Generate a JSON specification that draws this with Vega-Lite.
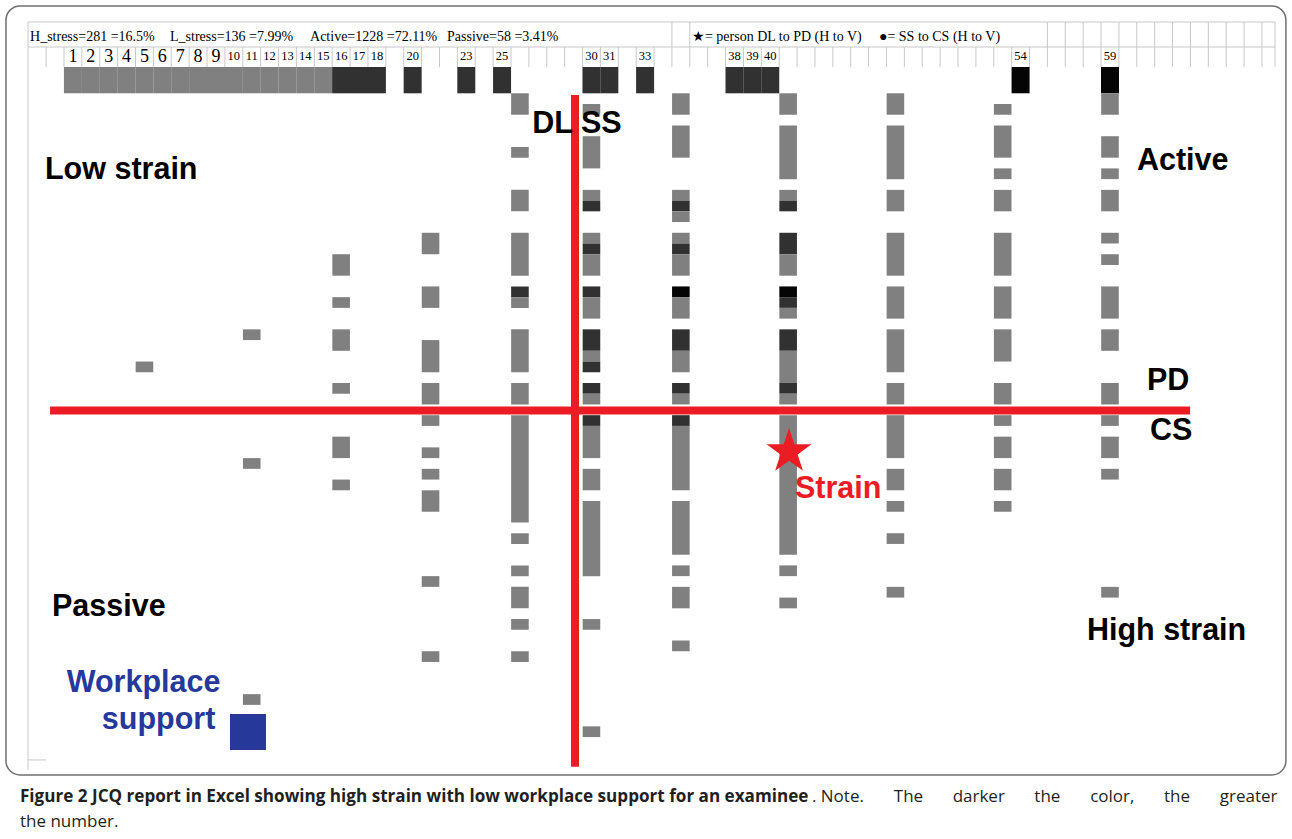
{
  "$schema": "https://vega.github.io/schema/vega-lite/v6.json",
  "width": 1292,
  "height": 839,
  "autosize": {"type": "none"},
  "padding": 0,
  "background": "white",
  "config": {"view": {"stroke": null}, "text": {"font": "Liberation Sans"}, "scale": {"continuousPadding": 0}},
  "datasets": {
    "cells": [
      {"col":5,"from":25,"to":26,"tone":"g"},
      {"col":11,"from":22,"to":23,"tone":"g"},
      {"col":11,"from":34,"to":35,"tone":"g"},
      {"col":11,"from":56,"to":57,"tone":"g"},
      {"col":16,"from":15,"to":17,"tone":"g"},
      {"col":16,"from":19,"to":20,"tone":"g"},
      {"col":16,"from":22,"to":24,"tone":"g"},
      {"col":16,"from":27,"to":28,"tone":"g"},
      {"col":16,"from":32,"to":34,"tone":"g"},
      {"col":16,"from":36,"to":37,"tone":"g"},
      {"col":21,"from":13,"to":15,"tone":"g"},
      {"col":21,"from":18,"to":20,"tone":"g"},
      {"col":21,"from":23,"to":26,"tone":"g"},
      {"col":21,"from":27,"to":29,"tone":"g"},
      {"col":21,"from":30,"to":31,"tone":"g"},
      {"col":21,"from":33,"to":34,"tone":"g"},
      {"col":21,"from":35,"to":36,"tone":"g"},
      {"col":21,"from":37,"to":39,"tone":"g"},
      {"col":21,"from":45,"to":46,"tone":"g"},
      {"col":21,"from":52,"to":53,"tone":"g"},
      {"col":26,"from":0,"to":2,"tone":"g"},
      {"col":26,"from":5,"to":6,"tone":"g"},
      {"col":26,"from":9,"to":11,"tone":"g"},
      {"col":26,"from":13,"to":17,"tone":"g"},
      {"col":26,"from":18,"to":19,"tone":"d"},
      {"col":26,"from":19,"to":20,"tone":"g"},
      {"col":26,"from":22,"to":26,"tone":"g"},
      {"col":26,"from":27,"to":29,"tone":"g"},
      {"col":26,"from":30,"to":40,"tone":"g"},
      {"col":26,"from":41,"to":42,"tone":"g"},
      {"col":26,"from":44,"to":45,"tone":"g"},
      {"col":26,"from":46,"to":48,"tone":"g"},
      {"col":26,"from":49,"to":50,"tone":"g"},
      {"col":26,"from":52,"to":53,"tone":"g"},
      {"col":30,"from":1,"to":2,"tone":"g"},
      {"col":30,"from":4,"to":7,"tone":"g"},
      {"col":30,"from":9,"to":10,"tone":"g"},
      {"col":30,"from":10,"to":11,"tone":"d"},
      {"col":30,"from":13,"to":14,"tone":"g"},
      {"col":30,"from":14,"to":15,"tone":"d"},
      {"col":30,"from":15,"to":17,"tone":"g"},
      {"col":30,"from":18,"to":19,"tone":"d"},
      {"col":30,"from":19,"to":21,"tone":"g"},
      {"col":30,"from":22,"to":24,"tone":"d"},
      {"col":30,"from":24,"to":25,"tone":"g"},
      {"col":30,"from":25,"to":26,"tone":"d"},
      {"col":30,"from":27,"to":28,"tone":"d"},
      {"col":30,"from":28,"to":29,"tone":"g"},
      {"col":30,"from":30,"to":31,"tone":"d"},
      {"col":30,"from":31,"to":34,"tone":"g"},
      {"col":30,"from":35,"to":37,"tone":"g"},
      {"col":30,"from":38,"to":45,"tone":"g"},
      {"col":30,"from":49,"to":50,"tone":"g"},
      {"col":30,"from":59,"to":60,"tone":"g"},
      {"col":35,"from":0,"to":2,"tone":"g"},
      {"col":35,"from":3,"to":6,"tone":"g"},
      {"col":35,"from":9,"to":10,"tone":"g"},
      {"col":35,"from":10,"to":11,"tone":"d"},
      {"col":35,"from":11,"to":12,"tone":"g"},
      {"col":35,"from":13,"to":14,"tone":"g"},
      {"col":35,"from":14,"to":15,"tone":"d"},
      {"col":35,"from":15,"to":17,"tone":"g"},
      {"col":35,"from":18,"to":19,"tone":"b"},
      {"col":35,"from":19,"to":21,"tone":"g"},
      {"col":35,"from":22,"to":24,"tone":"d"},
      {"col":35,"from":24,"to":26,"tone":"g"},
      {"col":35,"from":27,"to":28,"tone":"d"},
      {"col":35,"from":28,"to":29,"tone":"g"},
      {"col":35,"from":30,"to":31,"tone":"d"},
      {"col":35,"from":31,"to":37,"tone":"g"},
      {"col":35,"from":38,"to":43,"tone":"g"},
      {"col":35,"from":44,"to":45,"tone":"g"},
      {"col":35,"from":46,"to":48,"tone":"g"},
      {"col":35,"from":51,"to":52,"tone":"g"},
      {"col":41,"from":0,"to":2,"tone":"g"},
      {"col":41,"from":3,"to":8,"tone":"g"},
      {"col":41,"from":9,"to":10,"tone":"g"},
      {"col":41,"from":10,"to":11,"tone":"d"},
      {"col":41,"from":13,"to":15,"tone":"d"},
      {"col":41,"from":15,"to":17,"tone":"g"},
      {"col":41,"from":18,"to":19,"tone":"b"},
      {"col":41,"from":19,"to":20,"tone":"d"},
      {"col":41,"from":20,"to":21,"tone":"g"},
      {"col":41,"from":22,"to":24,"tone":"d"},
      {"col":41,"from":24,"to":27,"tone":"g"},
      {"col":41,"from":27,"to":28,"tone":"d"},
      {"col":41,"from":28,"to":29,"tone":"g"},
      {"col":41,"from":30,"to":43,"tone":"g"},
      {"col":41,"from":44,"to":45,"tone":"g"},
      {"col":41,"from":47,"to":48,"tone":"g"},
      {"col":47,"from":0,"to":2,"tone":"g"},
      {"col":47,"from":3,"to":8,"tone":"g"},
      {"col":47,"from":9,"to":11,"tone":"g"},
      {"col":47,"from":13,"to":17,"tone":"g"},
      {"col":47,"from":18,"to":21,"tone":"g"},
      {"col":47,"from":22,"to":26,"tone":"g"},
      {"col":47,"from":27,"to":29,"tone":"g"},
      {"col":47,"from":30,"to":34,"tone":"g"},
      {"col":47,"from":35,"to":37,"tone":"g"},
      {"col":47,"from":38,"to":39,"tone":"g"},
      {"col":47,"from":41,"to":42,"tone":"g"},
      {"col":47,"from":46,"to":47,"tone":"g"},
      {"col":53,"from":1,"to":2,"tone":"g"},
      {"col":53,"from":3,"to":6,"tone":"g"},
      {"col":53,"from":7,"to":8,"tone":"g"},
      {"col":53,"from":9,"to":11,"tone":"g"},
      {"col":53,"from":13,"to":17,"tone":"g"},
      {"col":53,"from":18,"to":21,"tone":"g"},
      {"col":53,"from":22,"to":25,"tone":"g"},
      {"col":53,"from":27,"to":29,"tone":"g"},
      {"col":53,"from":30,"to":31,"tone":"g"},
      {"col":53,"from":32,"to":34,"tone":"g"},
      {"col":53,"from":35,"to":37,"tone":"g"},
      {"col":53,"from":38,"to":39,"tone":"g"},
      {"col":59,"from":0,"to":2,"tone":"g"},
      {"col":59,"from":4,"to":6,"tone":"g"},
      {"col":59,"from":7,"to":8,"tone":"g"},
      {"col":59,"from":9,"to":11,"tone":"g"},
      {"col":59,"from":13,"to":14,"tone":"g"},
      {"col":59,"from":15,"to":16,"tone":"g"},
      {"col":59,"from":18,"to":21,"tone":"g"},
      {"col":59,"from":22,"to":24,"tone":"g"},
      {"col":59,"from":27,"to":29,"tone":"g"},
      {"col":59,"from":30,"to":31,"tone":"g"},
      {"col":59,"from":32,"to":34,"tone":"g"},
      {"col":59,"from":35,"to":36,"tone":"g"},
      {"col":59,"from":46,"to":47,"tone":"g"}
    ],
    "header": [
      {"col":1,"tone":"g"},{"col":2,"tone":"g"},{"col":3,"tone":"g"},{"col":4,"tone":"g"},{"col":5,"tone":"g"},
      {"col":6,"tone":"g"},{"col":7,"tone":"g"},{"col":8,"tone":"g"},{"col":9,"tone":"g"},{"col":10,"tone":"g"},
      {"col":11,"tone":"g"},{"col":12,"tone":"g"},{"col":13,"tone":"g"},{"col":14,"tone":"g"},{"col":15,"tone":"g"},
      {"col":16,"tone":"d"},{"col":17,"tone":"d"},{"col":18,"tone":"d"},{"col":20,"tone":"d"},{"col":23,"tone":"d"},
      {"col":25,"tone":"d"},{"col":30,"tone":"d"},{"col":31,"tone":"d"},{"col":33,"tone":"d"},{"col":38,"tone":"d"},
      {"col":39,"tone":"d"},{"col":40,"tone":"d"},{"col":54,"tone":"b"},{"col":59,"tone":"b"}
    ],
    "bigNums": [{"col":1},{"col":2},{"col":3},{"col":4},{"col":5},{"col":6},{"col":7},{"col":8},{"col":9}],
    "smallNums": [{"col":10},{"col":11},{"col":12},{"col":13},{"col":14},{"col":15},{"col":16},{"col":17},{"col":18},{"col":20},{"col":23},{"col":25},{"col":30},{"col":31},{"col":33},{"col":38},{"col":39},{"col":40},{"col":54},{"col":59}],
    "numEdges": [{"edge":-0.5},{"edge":0.5},{"edge":1.5},{"edge":2.5},{"edge":3.5},{"edge":4.5},{"edge":5.5},{"edge":6.5},{"edge":7.5},{"edge":8.5},{"edge":9.5},{"edge":10.5},{"edge":11.5},{"edge":12.5},{"edge":13.5},{"edge":14.5},{"edge":15.5},{"edge":16.5},{"edge":17.5},{"edge":18.5},{"edge":19.5},{"edge":20.5},{"edge":21.5},{"edge":22.5},{"edge":23.5},{"edge":24.5},{"edge":25.5},{"edge":26.5},{"edge":27.5},{"edge":28.5},{"edge":29.5},{"edge":30.5},{"edge":31.5},{"edge":32.5},{"edge":33.5},{"edge":34.5},{"edge":35.5},{"edge":36.5},{"edge":37.5},{"edge":38.5},{"edge":39.5},{"edge":40.5},{"edge":41.5},{"edge":42.5},{"edge":43.5},{"edge":44.5},{"edge":45.5},{"edge":46.5},{"edge":47.5},{"edge":48.5},{"edge":49.5},{"edge":50.5},{"edge":51.5},{"edge":52.5},{"edge":53.5},{"edge":54.5},{"edge":55.5},{"edge":56.5},{"edge":57.5},{"edge":58.5},{"edge":59.5},{"edge":60.5},{"edge":61.5},{"edge":62.5},{"edge":63.5},{"edge":64.5},{"edge":65.5},{"edge":66.5},{"edge":67.5}],
    "titleEdges": [{"edge":34.5},{"edge":35.5},{"edge":55.5},{"edge":56.5},{"edge":57.5},{"edge":58.5},{"edge":59.5},{"edge":60.5},{"edge":61.5},{"edge":62.5},{"edge":63.5},{"edge":64.5},{"edge":65.5},{"edge":66.5},{"edge":67.5}],
    "quadLabels": [
      {"label":"Low strain","col":-0.563,"row":7.15},
      {"label":"Active","col":60.51,"row":6.31},
      {"label":"PD","col":61.07,"row":26.81},
      {"label":"CS","col":61.24,"row":31.47},
      {"label":"Passive","col":-0.17,"row":47.87},
      {"label":"High strain","col":57.71,"row":50.11}
    ],
    "blueLabels": [
      {"label":"Workplace","col":4.95,"row":54.96},
      {"label":"support","col":5.79,"row":58.4}
    ],
    "statLabels": [
      {"label":"H_stress=281 =16.5%","col":-1.4,"row":-5.25},
      {"label":"L_stress=136 =7.99%","col":6.43,"row":-5.25},
      {"label":"Active=1228 =72.11%","col":14.26,"row":-5.25},
      {"label":"Passive=58 =3.41%","col":21.92,"row":-5.25},
      {"label":"★= person DL to PD (H to V)","col":35.62,"row":-5.25},
      {"label":"●= SS to CS (H to V)","col":46.08,"row":-5.25}
    ],
    "noteWords": [
      {"label":". Note.","col":42.33,"row":65.58},
      {"label":"The","col":46.91,"row":65.58},
      {"label":"darker","col":50.2,"row":65.58},
      {"label":"the","col":54.77,"row":65.58},
      {"label":"color,","col":57.89,"row":65.58},
      {"label":"the","col":62.02,"row":65.58},
      {"label":"greater","col":65.14,"row":65.58},
      {"label":"the number.","col":-1.961,"row":67.91}
    ]
  },
  "layer": [
    {
      "data": {"values": [{}]},
      "mark": {"type": "rect", "filled": false, "stroke": "#707070", "strokeWidth": 1.5, "cornerRadius": 14},
      "encoding": {
        "x": {"datum": -2.744, "type": "quantitative", "scale": {"domain": [-3.079, 69.18], "nice": false, "zero": false, "padding": 0}, "axis": null},
        "x2": {"datum": 68.84},
        "y": {"datum": -8.136, "type": "quantitative", "scale": {"domain": [-8.695, 69.5], "reverse": true, "nice": false, "zero": false, "padding": 0}, "axis": null},
        "y2": {"datum": 63.53}
      }
    },
    {
      "data": {"values": [{}]},
      "mark": {"type": "rule", "color": "#c8c8c8", "strokeWidth": 1},
      "encoding": {
        "x": {"datum": -1.513, "type": "quantitative", "scale": {"domain": [-3.079, 69.18], "nice": false, "zero": false, "padding": 0}, "axis": null},
        "x2": {"datum": 68.23},
        "y": {"datum": -6.645, "type": "quantitative", "scale": {"domain": [-8.695, 69.5], "reverse": true, "nice": false, "zero": false, "padding": 0}, "axis": null}
      }
    },
    {
      "data": {"values": [{}]},
      "mark": {"type": "rule", "color": "#c8c8c8", "strokeWidth": 1},
      "encoding": {
        "x": {"datum": -1.513, "type": "quantitative", "scale": {"domain": [-3.079, 69.18], "nice": false, "zero": false, "padding": 0}, "axis": null},
        "x2": {"datum": 68.23},
        "y": {"datum": -4.315, "type": "quantitative", "scale": {"domain": [-8.695, 69.5], "reverse": true, "nice": false, "zero": false, "padding": 0}, "axis": null}
      }
    },
    {
      "data": {"values": [{}]},
      "mark": {"type": "rule", "color": "#c8c8c8", "strokeWidth": 1},
      "encoding": {
        "x": {"datum": -1.513, "type": "quantitative", "scale": {"domain": [-3.079, 69.18], "nice": false, "zero": false, "padding": 0}, "axis": null},
        "y": {"datum": -6.645, "type": "quantitative", "scale": {"domain": [-8.695, 69.5], "reverse": true, "nice": false, "zero": false, "padding": 0}, "axis": null},
        "y2": {"datum": 63.06}
      }
    },
    {
      "data": {"values": [{}]},
      "mark": {"type": "rule", "color": "#c8c8c8", "strokeWidth": 1},
      "encoding": {
        "x": {"datum": 68.23, "type": "quantitative", "scale": {"domain": [-3.079, 69.18], "nice": false, "zero": false, "padding": 0}, "axis": null},
        "y": {"datum": -6.645, "type": "quantitative", "scale": {"domain": [-8.695, 69.5], "reverse": true, "nice": false, "zero": false, "padding": 0}, "axis": null},
        "y2": {"datum": -2.45}
      }
    },
    {
      "data": {"values": [{}]},
      "mark": {"type": "rule", "color": "#c8c8c8", "strokeWidth": 1},
      "encoding": {
        "x": {"datum": -1.513, "type": "quantitative", "scale": {"domain": [-3.079, 69.18], "nice": false, "zero": false, "padding": 0}, "axis": null},
        "x2": {"datum": -0.5},
        "y": {"datum": 62.13, "type": "quantitative", "scale": {"domain": [-8.695, 69.5], "reverse": true, "nice": false, "zero": false, "padding": 0}, "axis": null}
      }
    },
    {
      "data": {"name": "numEdges"},
      "mark": {"type": "rule", "color": "#c8c8c8", "strokeWidth": 1},
      "encoding": {
        "x": {"field": "edge", "type": "quantitative", "scale": {"domain": [-3.079, 69.18], "nice": false, "zero": false, "padding": 0}, "axis": null},
        "y": {"datum": -4.315, "type": "quantitative", "scale": {"domain": [-8.695, 69.5], "reverse": true, "nice": false, "zero": false, "padding": 0}, "axis": null},
        "y2": {"datum": -2.45}
      }
    },
    {
      "data": {"name": "titleEdges"},
      "mark": {"type": "rule", "color": "#c8c8c8", "strokeWidth": 1},
      "encoding": {
        "x": {"field": "edge", "type": "quantitative", "scale": {"domain": [-3.079, 69.18], "nice": false, "zero": false, "padding": 0}, "axis": null},
        "y": {"datum": -6.645, "type": "quantitative", "scale": {"domain": [-8.695, 69.5], "reverse": true, "nice": false, "zero": false, "padding": 0}, "axis": null},
        "y2": {"datum": -4.315}
      }
    },
    {
      "data": {"name": "header"},
      "mark": {"type": "bar", "width": 18},
      "encoding": {
        "x": {"field": "col", "type": "quantitative", "scale": {"domain": [-3.079, 69.18], "nice": false, "zero": false, "padding": 0}, "axis": null},
        "y": {"datum": -2.45, "type": "quantitative", "scale": {"domain": [-8.695, 69.5], "reverse": true, "nice": false, "zero": false, "padding": 0}, "axis": null},
        "y2": {"datum": 0},
        "color": {"field": "tone", "type": "nominal", "scale": {"domain": ["g", "d", "b"], "range": ["#808080", "#313131", "#050505"]}, "legend": null}
      }
    },
    {
      "data": {"name": "cells"},
      "mark": {"type": "bar", "width": 17.6},
      "encoding": {
        "x": {"field": "col", "type": "quantitative", "scale": {"domain": [-3.079, 69.18], "nice": false, "zero": false, "padding": 0}, "axis": null},
        "y": {"field": "from", "type": "quantitative", "scale": {"domain": [-8.695, 69.5], "reverse": true, "nice": false, "zero": false, "padding": 0}, "axis": null},
        "y2": {"field": "to"},
        "color": {"field": "tone", "type": "nominal", "scale": {"domain": ["g", "d", "b"], "range": ["#808080", "#313131", "#050505"]}, "legend": null}
      }
    },
    {
      "data": {"name": "bigNums"},
      "mark": {"type": "text", "font": "Liberation Serif", "fontSize": 18, "align": "center", "baseline": "middle", "color": "#000"},
      "encoding": {
        "x": {"field": "col", "type": "quantitative", "scale": {"domain": [-3.079, 69.18], "nice": false, "zero": false, "padding": 0}, "axis": null},
        "y": {"datum": -3.38, "type": "quantitative", "scale": {"domain": [-8.695, 69.5], "reverse": true, "nice": false, "zero": false, "padding": 0}, "axis": null},
        "text": {"field": "col", "type": "quantitative", "format": "d"}
      }
    },
    {
      "data": {"name": "smallNums"},
      "mark": {"type": "text", "font": "Liberation Serif", "fontSize": 12.5, "align": "center", "baseline": "middle", "color": "#000"},
      "encoding": {
        "x": {"field": "col", "type": "quantitative", "scale": {"domain": [-3.079, 69.18], "nice": false, "zero": false, "padding": 0}, "axis": null},
        "y": {"datum": -3.45, "type": "quantitative", "scale": {"domain": [-8.695, 69.5], "reverse": true, "nice": false, "zero": false, "padding": 0}, "axis": null},
        "text": {"field": "col", "type": "quantitative", "format": "d"}
      }
    },
    {
      "data": {"name": "statLabels"},
      "mark": {"type": "text", "font": "Liberation Serif", "fontSize": 14, "align": "left", "baseline": "middle", "color": "#000"},
      "encoding": {
        "x": {"field": "col", "type": "quantitative", "scale": {"domain": [-3.079, 69.18], "nice": false, "zero": false, "padding": 0}, "axis": null},
        "y": {"field": "row", "type": "quantitative", "scale": {"domain": [-8.695, 69.5], "reverse": true, "nice": false, "zero": false, "padding": 0}, "axis": null},
        "text": {"field": "label"}
      }
    },
    {
      "data": {"values": [{}]},
      "mark": {"type": "rule", "color": "#ec1c24", "strokeWidth": 8},
      "encoding": {
        "x": {"datum": 29.08, "type": "quantitative", "scale": {"domain": [-3.079, 69.18], "nice": false, "zero": false, "padding": 0}, "axis": null},
        "y": {"datum": 0.16, "type": "quantitative", "scale": {"domain": [-8.695, 69.5], "reverse": true, "nice": false, "zero": false, "padding": 0}, "axis": null},
        "y2": {"datum": 62.76}
      }
    },
    {
      "data": {"values": [{}]},
      "mark": {"type": "rule", "color": "#ec1c24", "strokeWidth": 8},
      "encoding": {
        "x": {"datum": -0.28, "type": "quantitative", "scale": {"domain": [-3.079, 69.18], "nice": false, "zero": false, "padding": 0}, "axis": null},
        "x2": {"datum": 63.48},
        "y": {"datum": 29.56, "type": "quantitative", "scale": {"domain": [-8.695, 69.5], "reverse": true, "nice": false, "zero": false, "padding": 0}, "axis": null}
      }
    },
    {
      "data": {"name": "quadLabels"},
      "mark": {"type": "text", "font": "Liberation Sans", "fontWeight": "bold", "fontSize": 30.5, "align": "left", "baseline": "middle", "color": "#000"},
      "encoding": {
        "x": {"field": "col", "type": "quantitative", "scale": {"domain": [-3.079, 69.18], "nice": false, "zero": false, "padding": 0}, "axis": null},
        "y": {"field": "row", "type": "quantitative", "scale": {"domain": [-8.695, 69.5], "reverse": true, "nice": false, "zero": false, "padding": 0}, "axis": null},
        "text": {"field": "label"}
      }
    },
    {
      "data": {"values": [{}]},
      "mark": {"type": "text", "text": "DL SS", "font": "Liberation Sans", "fontWeight": "bold", "fontSize": 30.5, "align": "center", "baseline": "middle", "color": "#000"},
      "encoding": {
        "x": {"datum": 29.19, "type": "quantitative", "scale": {"domain": [-3.079, 69.18], "nice": false, "zero": false, "padding": 0}, "axis": null},
        "y": {"datum": 2.9, "type": "quantitative", "scale": {"domain": [-8.695, 69.5], "reverse": true, "nice": false, "zero": false, "padding": 0}, "axis": null}
      }
    },
    {
      "data": {"name": "blueLabels"},
      "mark": {"type": "text", "font": "Liberation Sans", "fontWeight": "bold", "fontSize": 30.5, "align": "center", "baseline": "middle", "color": "#26399b"},
      "encoding": {
        "x": {"field": "col", "type": "quantitative", "scale": {"domain": [-3.079, 69.18], "nice": false, "zero": false, "padding": 0}, "axis": null},
        "y": {"field": "row", "type": "quantitative", "scale": {"domain": [-8.695, 69.5], "reverse": true, "nice": false, "zero": false, "padding": 0}, "axis": null},
        "text": {"field": "label"}
      }
    },
    {
      "data": {"values": [{}]},
      "mark": {"type": "rect", "color": "#26399b"},
      "encoding": {
        "x": {"datum": 9.784, "type": "quantitative", "scale": {"domain": [-3.079, 69.18], "nice": false, "zero": false, "padding": 0}, "axis": null},
        "x2": {"datum": 11.797},
        "y": {"datum": 57.85, "type": "quantitative", "scale": {"domain": [-8.695, 69.5], "reverse": true, "nice": false, "zero": false, "padding": 0}, "axis": null},
        "y2": {"datum": 61.2}
      }
    },
    {
      "data": {"values": [{}]},
      "mark": {"type": "point", "filled": true, "color": "#ec1c24", "opacity": 1, "size": 2239, "shape": "M0,-1L0.2245,-0.309L0.9511,-0.309L0.3633,0.118L0.5878,0.809L0,0.382L-0.5878,0.809L-0.3633,0.118L-0.9511,-0.309L-0.2245,-0.309Z"},
      "encoding": {
        "x": {"datum": 41.05, "type": "quantitative", "scale": {"domain": [-3.079, 69.18], "nice": false, "zero": false, "padding": 0}, "axis": null},
        "y": {"datum": 33.4, "type": "quantitative", "scale": {"domain": [-8.695, 69.5], "reverse": true, "nice": false, "zero": false, "padding": 0}, "axis": null}
      }
    },
    {
      "data": {"values": [{}]},
      "mark": {"type": "text", "text": "Strain", "font": "Liberation Sans", "fontWeight": "bold", "fontSize": 30.5, "align": "left", "baseline": "middle", "color": "#ec1c24"},
      "encoding": {
        "x": {"datum": 41.38, "type": "quantitative", "scale": {"domain": [-3.079, 69.18], "nice": false, "zero": false, "padding": 0}, "axis": null},
        "y": {"datum": 36.88, "type": "quantitative", "scale": {"domain": [-8.695, 69.5], "reverse": true, "nice": false, "zero": false, "padding": 0}, "axis": null}
      }
    },
    {
      "data": {"values": [{}]},
      "mark": {"type": "text", "text": "Figure 2 JCQ report in Excel showing high strain with low workplace support for an examinee", "font": "Open Sans", "fontWeight": "bold", "fontSize": 17.1, "align": "left", "baseline": "middle", "color": "#231f20"},
      "encoding": {
        "x": {"datum": -1.961, "type": "quantitative", "scale": {"domain": [-3.079, 69.18], "nice": false, "zero": false, "padding": 0}, "axis": null},
        "y": {"datum": 65.58, "type": "quantitative", "scale": {"domain": [-8.695, 69.5], "reverse": true, "nice": false, "zero": false, "padding": 0}, "axis": null}
      }
    },
    {
      "data": {"name": "noteWords"},
      "mark": {"type": "text", "font": "Open Sans", "fontSize": 17, "align": "left", "baseline": "middle", "color": "#231f20"},
      "encoding": {
        "x": {"field": "col", "type": "quantitative", "scale": {"domain": [-3.079, 69.18], "nice": false, "zero": false, "padding": 0}, "axis": null},
        "y": {"field": "row", "type": "quantitative", "scale": {"domain": [-8.695, 69.5], "reverse": true, "nice": false, "zero": false, "padding": 0}, "axis": null},
        "text": {"field": "label"}
      }
    }
  ]
}
